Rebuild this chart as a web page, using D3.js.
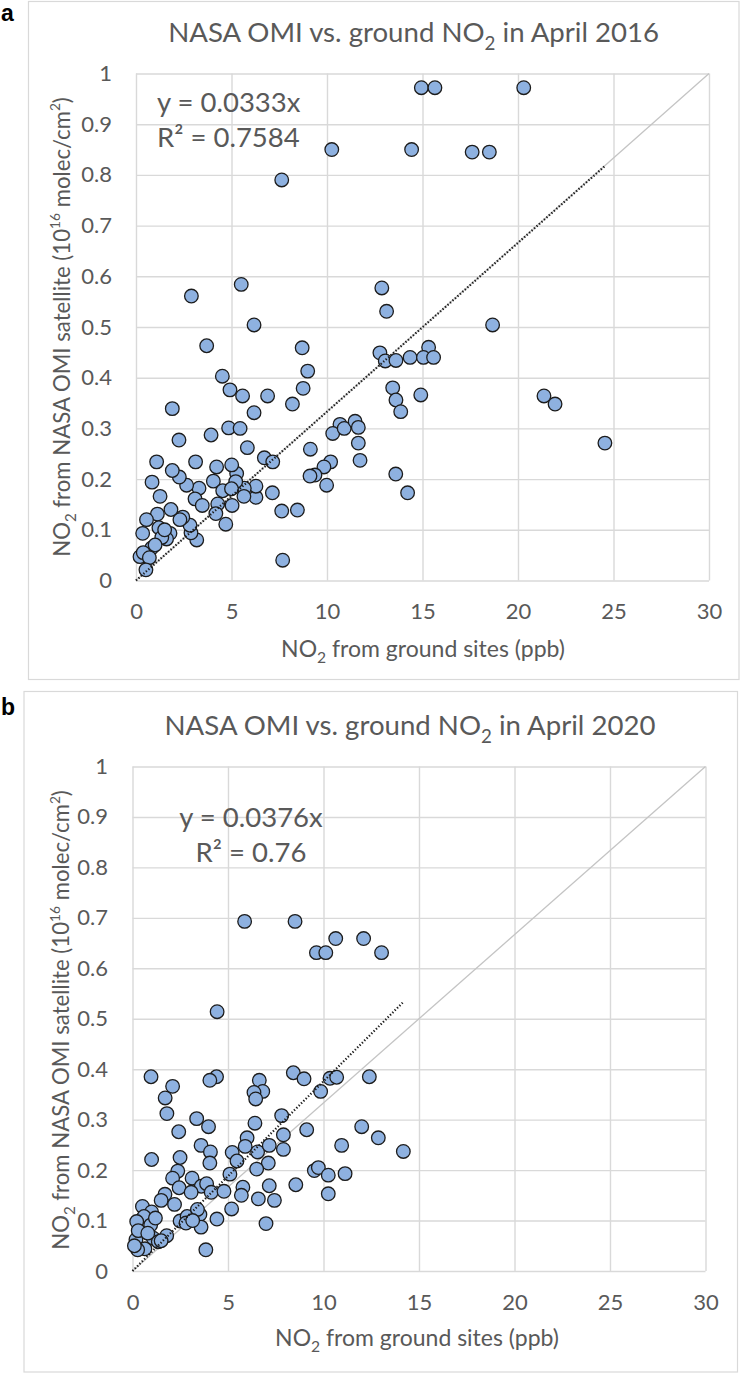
<!DOCTYPE html>
<html><head><meta charset="utf-8">
<script src="https://cdnjs.cloudflare.com/ajax/libs/d3/7.8.5/d3.min.js"></script>
<style>
body{margin:0;background:#fff}
svg{display:block}
text{font-family:Lato,'Open Sans',sans-serif}
</style>
</head><body>
<svg id="chart" width="740" height="1374"></svg>
<script>
// ---------------- data ----------------
const xTicks = [0, 5, 10, 15, 20, 25, 30];
const yTicks = [0, 0.1, 0.2, 0.3, 0.4, 0.5, 0.6, 0.7, 0.8, 0.9, 1];

const slopeA = 0.0333, r2A = "0.7584";
const slopeB = 0.0376, r2B = "0.76";

// [ground NO2 (ppb), OMI NO2 (1e16 molec/cm2)] - April 2016
const pointsA = [
[14.94,0.972],[15.65,0.972],[20.3,0.972],
[10.25,0.850],[14.43,0.850],[17.6,0.845],[18.5,0.845],
[7.63,0.790],
[5.51,0.584],[2.9,0.561],[12.87,0.577],[13.12,0.531],[6.18,0.504],[18.67,0.504],
[3.70,0.463],[8.70,0.459],[12.77,0.449],[15.32,0.460],[13.05,0.433],[13.61,0.434],[14.35,0.440],[15.05,0.440],[15.58,0.440],
[4.52,0.403],[8.99,0.413],[4.92,0.376],[5.58,0.364],[6.89,0.364],[8.75,0.379],[8.19,0.348],[6.18,0.331],[1.90,0.339],
[13.44,0.380],[13.61,0.356],[13.86,0.333],[14.91,0.366],[21.36,0.364],[21.94,0.348],[24.55,0.271],
[2.25,0.277],[3.93,0.287],[4.85,0.301],[5.45,0.300],[5.83,0.262],[6.72,0.242],[7.16,0.234],[3.12,0.234],[1.08,0.234],
[10.68,0.308],[10.3,0.290],[10.9,0.300],[11.47,0.314],[11.64,0.302],[11.64,0.271],[11.73,0.237],
[9.13,0.259],[10.19,0.234],[9.84,0.224],[9.37,0.208],[9.11,0.206],[9.98,0.188],[13.60,0.210],[14.22,0.173],
[7.63,0.137],[8.45,0.139],[7.68,0.040],[7.14,0.173],[6.28,0.164],[6.28,0.186],[5.67,0.182],[5.65,0.166],
[5.27,0.211],[5.01,0.228],[5.22,0.195],[4.22,0.224],[4.05,0.196],[4.54,0.177],[5.0,0.181],[5.03,0.148],[4.70,0.111],
[4.28,0.151],[4.18,0.132],[3.30,0.182],[3.09,0.161],[3.47,0.148],[3.18,0.080],[2.88,0.094],[2.83,0.109],[2.45,0.125],
[2.65,0.188],[2.27,0.204],[1.90,0.217],[2.3,0.120],[1.83,0.140],[1.26,0.166],[0.84,0.194],[1.12,0.131],[0.55,0.120],
[1.20,0.104],[1.78,0.093],[1.60,0.082],[1.35,0.085],[1.5,0.100],[0.35,0.093],[0.82,0.064],[1.0,0.070],[0.21,0.047],
[0.38,0.055],[0.7,0.045],[0.52,0.021]
];

// April 2020
const pointsB = [
[5.87,0.693],[8.51,0.693],[10.64,0.659],[12.10,0.659],[9.63,0.631],[10.12,0.631],[13.04,0.631],[4.43,0.514],
[0.97,0.385],[2.10,0.366],[1.71,0.343],[1.80,0.312],[2.42,0.276],[4.40,0.385],[4.05,0.378],
[6.64,0.378],[6.82,0.356],[6.36,0.354],[6.45,0.341],[8.42,0.393],[8.98,0.381],[10.34,0.382],[10.69,0.384],[12.40,0.385],[9.85,0.356],
[7.81,0.308],[6.41,0.293],[3.36,0.302],[3.98,0.286],[3.59,0.249],[4.08,0.236],[4.05,0.214],[1.0,0.221],[2.49,0.225],[2.37,0.198],
[2.10,0.184],[3.12,0.184],[3.60,0.168],[3.88,0.173],[4.12,0.156],[2.44,0.165],[3.07,0.156],[4.79,0.158],
[5.10,0.192],[5.22,0.235],[5.47,0.218],[6.0,0.264],[5.90,0.247],[6.55,0.236],[7.16,0.249],[7.90,0.270],[7.90,0.241],[9.12,0.280],[7.11,0.214],[6.50,0.202],
[5.78,0.166],[5.70,0.150],[6.59,0.143],[7.16,0.169],[7.43,0.140],[6.99,0.094],[8.55,0.171],[5.19,0.123],[4.42,0.103],[3.84,0.042],
[9.52,0.199],[9.73,0.205],[10.25,0.190],[10.25,0.153],[11.13,0.193],[10.95,0.249],[12.0,0.286],[12.87,0.264],[14.18,0.237],
[1.70,0.152],[1.50,0.140],[2.2,0.132],[0.52,0.128],[1.0,0.117],[0.6,0.108],[0.95,0.091],[0.22,0.098],[0.18,0.062],[0.65,0.044],[1.09,0.065],[1.79,0.070],
[2.49,0.099],[2.86,0.108],[3.53,0.112],[3.59,0.087],[2.8,0.095],[3.4,0.122],[3.15,0.100],[0.27,0.042],[1.35,0.058],[0.3,0.080],[0.8,0.075],[1.5,0.060],[0.1,0.050],[1.2,0.105]
];

// ---------------- layout ----------------
const panels = [
  { letter:"a", year:"2016", pts:pointsA, slope:slopeA, r2:r2A,
    frame:[28,1,710.5,678], plot:{l:136,r:709,t:73.5,b:580.5},
    letterPos:[1,21], title:[413.6,42], xTitle:[423,657], yTitle:[69.5,327],
    eq:{x:157,y1:111.7,y2:147,anchor:"start"}, yPad:24 },
  { letter:"b", year:"2020", pts:pointsB, slope:slopeB, r2:r2B,
    frame:[23.5,691,713.5,680.5], plot:{l:132.5,r:705.5,t:766.5,b:1271},
    letterPos:[1,715], title:[410,735], xTitle:[417,1346], yTitle:[69,1020],
    eq:{x:251,y1:827,y2:862,anchor:"middle"}, yPad:24.5 }
];

const TXT = "#595959", GRID = "#d9d9d9";
const svg = d3.select("#chart");

function rich(sel, parts, fs){
  let shift = 0;
  parts.forEach(p=>{
    const t = sel.append("tspan").text(p.t);
    let target = 0;
    if(p.sub){ t.attr("font-size", fs*0.68); target = fs*0.28; }
    else if(p.sup){ t.attr("font-size", fs*0.62); target = -fs*0.42; }
    const dy = target - shift;
    if(dy !== 0) t.attr("dy", dy);
    shift = target;
  });
}

panels.forEach(P=>{
  const g = svg.append("g");
  const [fx,fy,fw,fh] = P.frame;
  g.append("rect").attr("x",fx+0.5).attr("y",fy+0.5).attr("width",fw).attr("height",fh)
    .attr("fill","#fff").attr("stroke",GRID).attr("stroke-width",1.2);

  g.append("text").attr("x",P.letterPos[0]).attr("y",P.letterPos[1])
    .style("font-family","'Liberation Sans',Arial,sans-serif").attr("font-weight","bold")
    .attr("font-size",23).attr("fill","#000").text(P.letter);

  const x = d3.scaleLinear().domain([0,30]).range([P.plot.l,P.plot.r]);
  const y = d3.scaleLinear().domain([0,1]).range([P.plot.b,P.plot.t]);
  const H = P.plot.b-P.plot.t, W = P.plot.r-P.plot.l;

  const xa = g.append("g").attr("transform",`translate(0,${P.plot.b})`)
    .call(d3.axisBottom(x).tickValues(xTicks).tickSize(-H).tickPadding(23).tickFormat(d3.format("d")));
  const ya = g.append("g").attr("transform",`translate(${P.plot.l},0)`)
    .call(d3.axisLeft(y).tickValues(yTicks).tickSize(-W).tickPadding(P.yPad).tickFormat(d=>String(+d.toFixed(1))));
  [xa,ya].forEach(a=>{
    a.select(".domain").remove();
    a.selectAll(".tick line").attr("stroke",GRID).attr("stroke-width",1.4);
    a.selectAll(".tick text").attr("fill",TXT).attr("font-size",22).style("font-family","Lato");
  });

  // 1:1 line
  g.append("line").attr("x1",x(0)).attr("y1",y(0)).attr("x2",x(30)).attr("y2",y(1))
    .attr("stroke","#c4c4c4").attr("stroke-width",1.3);

  // points
  g.append("g").selectAll("circle").data(P.pts).join("circle")
    .attr("cx",d=>x(d[0])).attr("cy",d=>y(d[1])).attr("r",6.8)
    .attr("fill","#8eb1e0").attr("stroke","#1c1c1c").attr("stroke-width",1.3);

  // linear trend through origin
  const xmax = d3.max(P.pts,d=>d[0]);
  g.append("line").attr("x1",x(0)).attr("y1",y(0)).attr("x2",x(xmax)).attr("y2",y(P.slope*xmax))
    .attr("stroke","#1a1a1a").attr("stroke-width",2.2).attr("stroke-dasharray","1.3 2")
    .attr("stroke-linecap","butt");

  // equation
  g.append("text").attr("x",P.eq.x).attr("y",P.eq.y1).attr("text-anchor",P.eq.anchor)
    .attr("font-size",27.5).attr("fill",TXT).text(`y = ${P.slope}x`);
  g.append("text").attr("x",P.eq.x).attr("y",P.eq.y2).attr("text-anchor",P.eq.anchor)
    .attr("font-size",27.5).attr("fill",TXT).text(`R² = ${P.r2}`);

  // title
  const tt = g.append("text").attr("x",P.title[0]).attr("y",P.title[1]).attr("text-anchor","middle")
    .attr("font-size",27.6).attr("fill",TXT);
  rich(tt,[{t:"NASA OMI vs. ground NO"},{t:"2",sub:true},{t:` in April ${P.year}`}],27.6);

  // x title
  const xt = g.append("text").attr("x",P.xTitle[0]).attr("y",P.xTitle[1]).attr("text-anchor","middle")
    .attr("font-size",23).attr("fill",TXT);
  rich(xt,[{t:"NO"},{t:"2",sub:true},{t:" from ground sites (ppb)"}],23);

  // y title
  const yt = g.append("text").attr("transform",`translate(${P.yTitle[0]},${P.yTitle[1]}) rotate(-90)`)
    .attr("text-anchor","middle").attr("font-size",22.2).attr("fill",TXT);
  rich(yt,[{t:"NO"},{t:"2",sub:true},{t:" from NASA OMI satellite (10"},{t:"16",sup:true},{t:" molec/cm"},{t:"2",sup:true},{t:")"}],22.2);
});
</script>
</body></html>
